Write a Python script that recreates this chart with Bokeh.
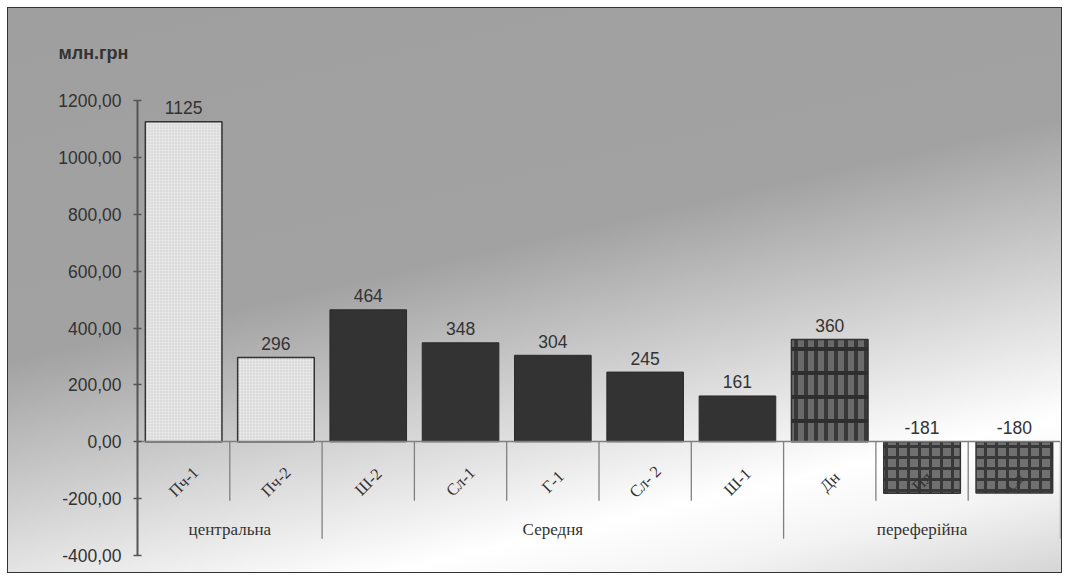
import math
from bokeh.plotting import figure
from bokeh.models import FactorRange, FixedTicker, CustomJSTickFormatter, ColumnDataSource, Title
from bokeh.core.properties import value
from bokeh.embed import file_html
from bokeh.resources import INLINE

# ---- data ----
groups = ["центральна", "центральна", "Середня", "Середня", "Середня", "Середня", "Середня",
          "переферійна", "переферійна", "переферійна"]
regions = ["Пч-1", "Пч-2", "Ш-2", "Сл-1", "Г-1", "Сл- 2", "Ш-1", "Дн", "Пл", "Св"]
values = [1125, 296, 464, 348, 304, 245, 161, 360, -181, -180]
y_ticks = [-400, -200, 0, 200, 400, 600, 800, 1000, 1200]
y_unit = "млн.грн"

# ---- styles ----
bar_kind = {"Пч-1": "light", "Пч-2": "light", "Дн": "stripe", "Пл": "grid", "Св": "grid"}
STYLES = {
    "light": dict(fill_color="#e6e6e6", line_color="#333333", line_width=1.5,
                  hatch_pattern="dot", hatch_color="#c8c8c8", hatch_scale=3, hatch_weight=1),
    "dark": dict(fill_color="#333333", line_color="#2a2a2a", line_width=1),
    "stripe": dict(fill_color="#6a6a6a", line_color="#333333", line_width=1.5,
                   hatch_pattern="vertical_line", hatch_color="#383838", hatch_scale=10, hatch_weight=4),
    "grid": dict(fill_color="#707070", line_color="#333333", line_width=1.5,
                 hatch_pattern="cross", hatch_color="#383838", hatch_scale=11, hatch_weight=3),
}
SERIF = "Liberation Serif"
SANS = "Liberation Sans"
TEXT = "#333333"

factors = list(zip(groups, regions))
n = len(factors)
unique_groups = list(dict.fromkeys(groups))

p = figure(width=1069, height=580,
           x_range=FactorRange(*factors, factor_padding=0, group_padding=0,
                               subgroup_padding=0, range_padding=0),
           y_range=(y_ticks[0], y_ticks[-1]),
           output_backend="svg", toolbar_location=None,
           min_border_left=137, min_border_right=9, min_border_top=100, min_border_bottom=25)

p.styles = {
    "background": "linear-gradient(167deg, #9f9f9f 0%, #a2a2a2 44%, #d6d6d6 64%, #ffffff 80%, #f4f4f4 88%, #d2d2d2 100%)",
    "box-shadow": "inset 0 0 0 7px #ffffff, inset 0 0 0 8px #333333",
}
p.background_fill_color = None
p.border_fill_color = None
p.outline_line_color = None
p.xgrid.grid_line_color = None
p.ygrid.grid_line_color = None

# bars
for kind, props in STYLES.items():
    idx = [i for i, r in enumerate(regions) if bar_kind.get(r, "dark") == kind]
    src = ColumnDataSource(dict(x=[factors[i] for i in idx], top=[values[i] for i in idx]))
    p.vbar(x="x", top="top", bottom=0, width=0.83, source=src, **props)
    if kind == "stripe":
        p.vbar(x="x", top="top", bottom=0, width=0.83, source=src, fill_color=None,
               line_color=None, hatch_pattern="horizontal_line", hatch_color="#2e2e2e",
               hatch_scale=24, hatch_weight=4)

# value labels
lab = ColumnDataSource(dict(x=factors, y=[max(v, 0) for v in values], t=[str(v) for v in values]))
p.text(x="x", y="y", text="t", source=lab, text_align="center", text_baseline="alphabetic",
       y_offset=-14, text_font=value(SANS), text_font_size="17.5px", text_color=TEXT)

# separators on the category axis
group_ends = [i + 1 for i in range(n) if i == n - 1 or groups[i] != groups[i + 1]]
cat_bounds = [i for i in range(1, n) if i not in group_ends]
p.ray(x=cat_bounds, y=[0] * len(cat_bounds), length=59, length_units="screen",
      angle=-math.pi / 2, line_color="#808080", line_width=1.3)
p.ray(x=group_ends, y=[0] * len(group_ends), length=97, length_units="screen",
      angle=-math.pi / 2, line_color="#808080", line_width=1.3)

# category and group labels under the zero line
p.text(x=factors, y=[0] * n, text=regions, angle=math.pi / 4, text_align="center",
       text_baseline="middle", y_offset=40, text_font=value(SERIF), text_font_size="16.5px",
       text_color=TEXT)
p.text(x=unique_groups, y=[0] * len(unique_groups), text=unique_groups, text_align="center",
       text_baseline="middle", y_offset=88, text_font=value(SERIF), text_font_size="17px",
       text_color=TEXT)

# y axis
yax = p.yaxis[0]
yax.ticker = FixedTicker(ticks=y_ticks)
yax.formatter = CustomJSTickFormatter(code="return tick.toFixed(2).replace('.', ',');")
yax.axis_line_color = "#555555"
yax.axis_line_width = 2
yax.major_tick_line_color = "#555555"
yax.major_tick_line_width = 1.5
yax.major_tick_in = 4
yax.major_tick_out = 4
yax.minor_tick_line_color = None
yax.major_label_standoff = 12
yax.major_label_text_font = SANS
yax.major_label_text_font_size = "17.5px"
yax.major_label_text_color = TEXT

# x axis at zero (labels drawn above as glyphs)
xax = p.xaxis[0]
xax.fixed_location = 0
xax.axis_line_color = "#808080"
xax.axis_line_width = 1.5
xax.major_tick_line_color = None
xax.minor_tick_line_color = None
xax.major_label_text_color = None
xax.group_text_color = None
xax.subgroup_text_color = None
try:
    xax.separator_line_color = None
except Exception:
    pass

# unit label
p.add_layout(Title(text=y_unit, align="left", offset=-79, standoff=75,
                   text_font=SANS, text_font_size="18px", text_font_style="bold",
                   text_color=TEXT), "above")

open("out.html", "w").write(file_html(p, INLINE))
